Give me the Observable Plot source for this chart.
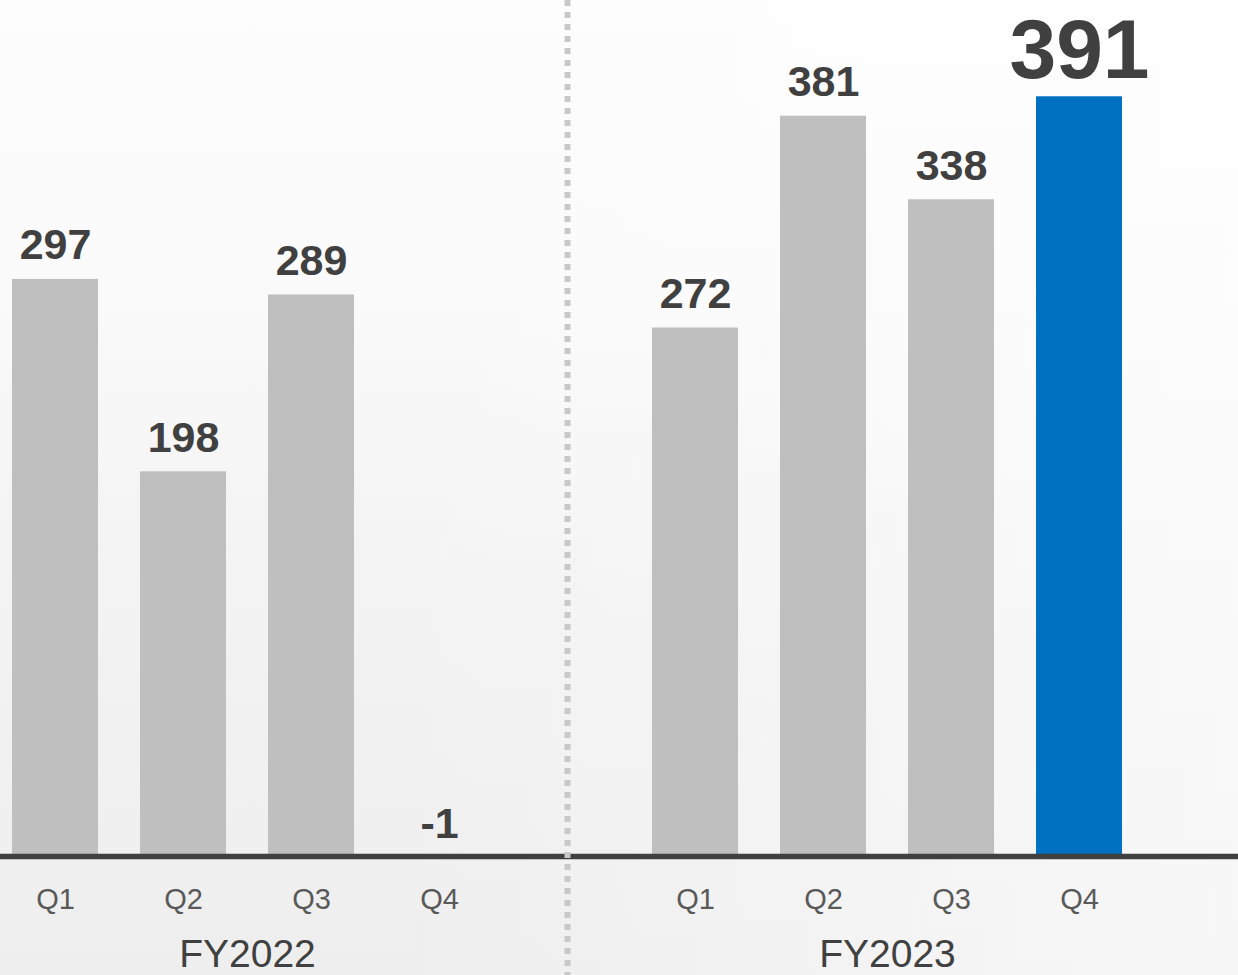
<!DOCTYPE html>
<html>
<head>
<meta charset="utf-8">
<script src="https://cdn.jsdelivr.net/npm/d3@7"></script>
<script src="https://cdn.jsdelivr.net/npm/@observablehq/plot@0.6"></script>
<style>
  html, body { margin: 0; padding: 0; }
  body {
    width: 1238px; height: 975px; overflow: hidden;
    background:
      linear-gradient(to right, rgba(255,255,255,0) 30%, rgba(255,255,255,0.55) 100%),
      linear-gradient(to bottom, #fdfdfd 0%, #fafafa 30%, #f3f3f3 60%, #eeeeee 100%);
  }
  #chart svg { display: block; }
</style>
</head>
<body>
<div id="chart"></div>
<script>
// ---- data ----
const years = ["FY2022", "FY2023"];
const quarters = ["Q1", "Q2", "Q3", "Q4"];
const fy2022 = [297, 198, 289, -1];
const fy2023 = [272, 381, 338, 391];
const highlight = {year: "FY2023", quarter: "Q4"};

// slot positions: 4 quarters, one empty slot as separator, 4 quarters
const rows = [];
years.forEach((yr, gi) => {
  const vals = gi === 0 ? fy2022 : fy2023;
  quarters.forEach((q, qi) => {
    rows.push({
      year: yr, quarter: q, value: vals[qi],
      slot: gi * 5 + qi,
      hi: yr === highlight.year && q === highlight.quarter
    });
  });
});
const groups = years.map((yr, gi) => ({year: yr, slot: gi * 5 + 1.5}));
const separator = [4];

const W = 1238, H = 975;
const halfBar = 0.336;

const chart = Plot.plot({
  width: W, height: H,
  marginLeft: 0, marginRight: 0, marginTop: 0, marginBottom: 119,
  style: {background: "transparent", fontFamily: "'Liberation Sans', Arial, sans-serif"},
  x: {type: "linear", domain: [-55 / 128, (W - 55) / 128], axis: null},
  y: {domain: [0, 856 / 1.943], axis: null},
  marks: [
    Plot.rectY(rows, {
      x1: d => d.slot - halfBar, x2: d => d.slot + halfBar,
      y1: 0, y2: "value",
      fill: d => d.hi ? "#0070c0" : "#bfbfbf"
    }),
    Plot.ruleY([0], {stroke: "#404040", strokeWidth: 5.5}),
    Plot.ruleX(separator, {
      stroke: "#c8c8c8", strokeWidth: 6, strokeDasharray: "6,6",
      insetBottom: -119
    }),
    Plot.text(rows.filter(d => !d.hi), {
      x: "slot", y: "value", text: d => String(d.value),
      lineAnchor: "bottom", dy: -20,
      fontSize: 43, fontWeight: "bold", fill: "#404040"
    }),
    Plot.text(rows.filter(d => d.hi), {
      x: "slot", y: "value", text: d => String(d.value),
      lineAnchor: "bottom", dy: -19,
      fontSize: 84, fontWeight: "bold", fill: "#404040"
    }),
    Plot.text(rows, {
      x: "slot", frameAnchor: "bottom", text: "quarter",
      lineAnchor: "bottom", dy: 52,
      fontSize: 29, fill: "#595959"
    }),
    Plot.text(groups, {
      x: "slot", frameAnchor: "bottom", text: "year",
      lineAnchor: "bottom", dy: 110,
      fontSize: 39, fill: "#404040"
    })
  ]
});
document.getElementById("chart").appendChild(chart);
</script>
</body>
</html>
